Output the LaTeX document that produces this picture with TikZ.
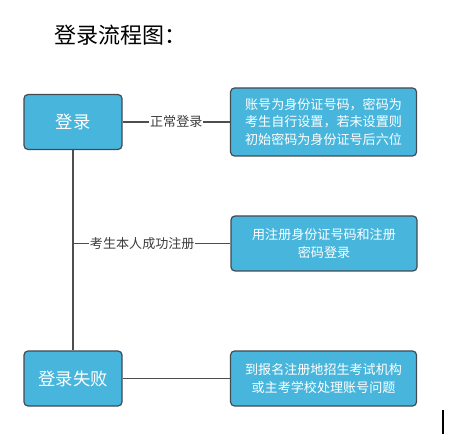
\documentclass[tikz,border=0pt]{standalone}
\usepackage{fontspec}
\setmainfont{Noto Sans CJK SC}
\usepackage{tikz}
\usetikzlibrary{positioning}
\definecolor{boxblue}{RGB}{72,182,220}
\definecolor{boxedge}{RGB}{66,74,82}
\definecolor{linegray}{RGB}{78,78,78}
\definecolor{labelgray}{RGB}{60,60,60}

\begin{document}
\begin{tikzpicture}[
 x=0.75pt,y=-0.75pt,
 node distance=80.5pt,
 every node/.style={align=center},
 stepbox/.style={draw=boxedge,fill=boxblue,rounded corners=3pt,line width=0.9pt,text=white,
  minimum width=73.5pt,minimum height=41.25pt,font=\fontsize{13}{16}\selectfont},
 infobox/.style={draw=boxedge,fill=boxblue,rounded corners=3pt,line width=0.9pt,text=white,
  minimum width=139.5pt,minimum height=41.25pt,font=\fontsize{9.8}{12.9}\selectfont},
 link/.style={draw=linegray,line width=1pt},
 tag/.style={fill=white,inner sep=0.5pt,text=labelgray,font=\fontsize{9.8}{12}\selectfont}
]
\useasboundingbox (0,0) rectangle (450,438);
\node[anchor=west,inner sep=0pt,font=\fontsize{16.5}{20}\selectfont] (title) at (54,35) {登录流程图：};
\node[stepbox] (login) at (73,122) {登录};
\node[infobox,right=of login,minimum height=51pt] (normal) {账号为身份证号码，密码为\\考生自行设置，若未设置则\\初始密码为身份证号后六位};
\node[infobox] (reg) at (324,243.5) {用注册身份证号码和注册\\密码登录};
\node[stepbox] (fail) at (73,378.5) {登录失败};
\node[infobox,right=of fail] (help) {到报名注册地招生考试机构\\或主考学校处理账号问题};
\coordinate (branch) at (login.south |- reg.west);
\draw[link] (login)--node[tag]{正常登录}(normal);
\draw[link] (login)--(fail);
\draw[link] (branch)--node[tag,pos=0.44]{考生本人成功注册}(reg);
\draw[link] (fail)--(help);
\draw[line width=0.9pt] (443,410)--(443,434);
\end{tikzpicture}
\end{document}
